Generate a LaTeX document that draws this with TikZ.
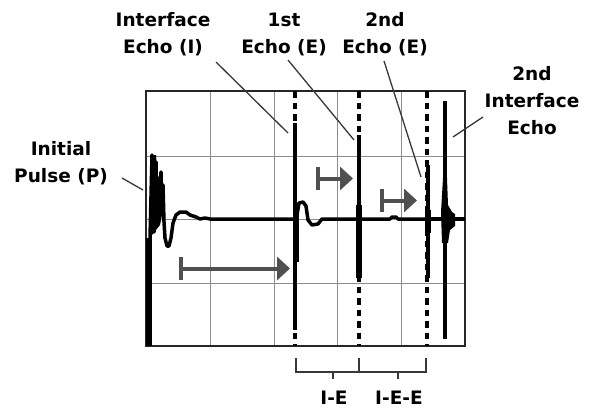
\documentclass[tikz,border=0pt]{standalone}
\usepackage{fontspec}
\newfontfamily\labfont{DejaVu Sans}
\usetikzlibrary{arrows.meta}
\definecolor{gridgray}{HTML}{8C8C8C}
\definecolor{arrowgray}{HTML}{505050}
\definecolor{leadgray}{HTML}{383838}
\tikzset{
  lab/.style={font=\labfont\bfseries\fontsize{18.5}{27}\selectfont, align=center, inner sep=0pt, anchor=base},
  gridline/.style={draw=gridgray, line width=1pt},
  frameline/.style={draw=black!85, line width=1.4pt},
  trace/.style={draw=black, line width=3.5pt, line join=round, line cap=round},
  echo/.style={draw=black, line width=4.5pt},
  blob/.style={fill=black},
  dashline/.style={draw=black, line width=3.5pt, dash pattern=on 6.5pt off 5pt},
  leader/.style={draw=leadgray, line width=1.3pt},
  garrow/.style={draw=arrowgray, line width=4pt, {Bar[width=23pt,line width=4pt]}-{Triangle[length=13pt,width=23pt]}},
  bracketline/.style={draw=leadgray, line width=1.4pt},
}
\begin{document}
\begin{tikzpicture}[x=1pt,y=-1pt]
\useasboundingbox (0,0) rectangle (589,410);
% grid
\foreach \gx in {210,274,337,401} \draw[gridline] (\gx,91) -- (\gx,346);
\foreach \gy in {156,219,283} \draw[gridline] (146,\gy) -- (465,\gy);
\draw[frameline] (146,91) rectangle (465,346);
% dashed markers
\foreach \dx in {295,359,427} \draw[dashline] (\dx,91) -- (\dx,346);
% baseline trace
\draw[trace] (150,238) -- (152,155) -- (154,232) -- (156,162) -- (157,215) -- (159,178) -- (160,205) -- (161,172) -- (162,212) -- (163,185) -- (164,222) -- (165,238) -- (167,246) -- (169,246) -- (171,238) -- (173,223) -- (176,215) -- (180,212) -- (186,212) -- (190,215) -- (196,217) -- (200,219) -- (205,218) -- (210,219) -- (295,219);
\fill[blob] (152,155) -- (156,155) -- (158,185) -- (162,180) -- (164,205) -- (160,225) -- (152,235) -- cycle;
\fill[blob] (145.5,238) rectangle (152,346);
% interface echo
\draw[echo] (295,123) -- (295,330);
\fill[blob] (292.5,205) rectangle (299,262);
\draw[trace] (297,215) -- (299,203) -- (303,202) -- (306,206) -- (308,220) -- (312,225) -- (318,224) -- (322,219) -- (359,219);
% 1st echo
\draw[echo] (359,135) -- (359,282);
\fill[blob] (356,205) rectangle (362,278);
\draw[trace] (359,219) -- (390,219) -- (392,217) -- (396,217) -- (398,219) -- (428,219);
% 2nd echo
\draw[echo] (428,165) -- (428,278);
\fill[blob] (425,210) rectangle (431,233);
\draw[trace, line cap=butt] (428,219) -- (465,219);
% 2nd interface echo
\draw[echo] (445,101) -- (445,339);
\fill[blob] (443,178) -- (447,178) -- (448,205) -- (452,212) -- (455,214) -- (455,226) -- (450,230) -- (448,243) -- (442,243) -- (441,212) -- cycle;
% gray arrows
\coordinate (a1s) at (179,268.5); \coordinate (a1e) at (290,268.5);
\coordinate (a2s) at (316,178.5); \coordinate (a2e) at (353,178.5);
\coordinate (a3s) at (380,200.5); \coordinate (a3e) at (417,200.5);
\draw[garrow] (a1s) -- (a1e);
\draw[garrow] (a2s) -- (a2e);
\draw[garrow] (a3s) -- (a3e);
% labels (anchor=base is the baseline of the last line)
\node[lab] (lint) at (163,53) {Interface\\Echo (I)};
\node[lab] (lfirst) at (284,53) {1st\\Echo (E)};
\node[lab] (lsecond) at (385,53) {2nd\\Echo (E)};
\node[lab] (lsecint) at (532,134) {2nd\\Interface\\Echo};
\node[lab] (linit) at (61,182) {Initial\\Pulse (P)};
\node[lab] (lie) at (334,404) {I-E};
\node[lab] (liee) at (399,404) {I-E-E};
% leaders
\coordinate (p1) at (216,62); \coordinate (q1) at (288,133);
\coordinate (p2) at (288,60); \coordinate (q2) at (354,140);
\coordinate (p3) at (384,61); \coordinate (q3) at (421,177);
\coordinate (p4) at (483,117); \coordinate (q4) at (453,137);
\coordinate (p5) at (122,178); \coordinate (q5) at (143,190);
\draw[leader] (p1) -- (q1);
\draw[leader] (p2) -- (q2);
\draw[leader] (p3) -- (q3);
\draw[leader] (p4) -- (q4);
\draw[leader] (p5) -- (q5);
% brackets
\draw[bracketline] (296,358) -- (296,372) -- (426,372) -- (426,358);
\draw[bracketline] (359,358) -- (359,372);
\draw[bracketline] (333,372) -- (333,379);
\draw[bracketline] (398,372) -- (398,379);
\end{tikzpicture}
\end{document}
